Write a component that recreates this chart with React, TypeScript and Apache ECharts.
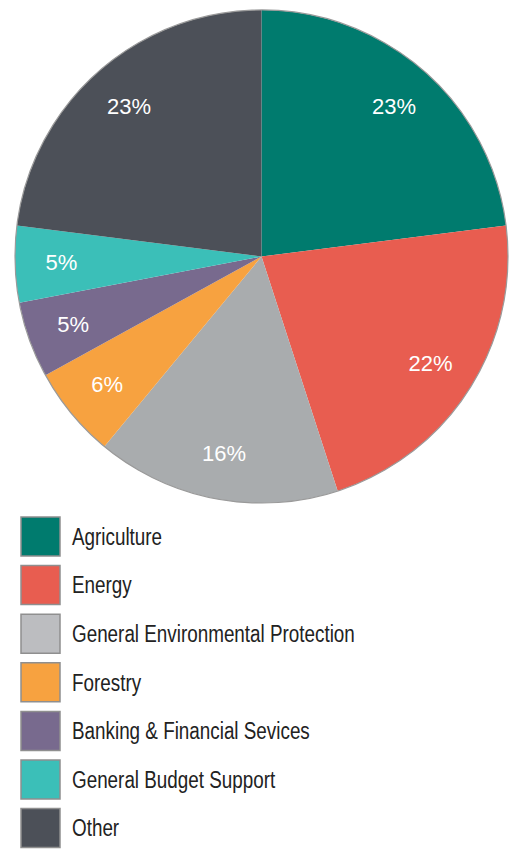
import React, { useEffect, useRef } from "react";
import * as echarts from "echarts";

const categories = [
  "Agriculture",
  "Energy",
  "General Environmental Protection",
  "Forestry",
  "Banking & Financial Sevices",
  "General Budget Support",
  "Other",
];
const shares = [23, 22, 16, 6, 5, 5, 23];
const colors = ["#007B6E", "#E85D50", "#A9ACAE", "#F7A240", "#786A8E", "#3BBFB8", "#4C5058"];
const legendColors = ["#007B6E", "#E85D50", "#BCBDC0", "#F7A240", "#786A8E", "#3BBFB8", "#4C5058"];

const FONT = "'Liberation Sans', Arial, sans-serif";

export default function App() {
  const ref = useRef<HTMLDivElement>(null);
  useEffect(() => {
    if (!ref.current) return;
    const chart = echarts.init(ref.current, null, { renderer: "svg" });
    const data = categories.map((name, i) => ({
      name,
      value: shares[i],
      itemStyle: { color: colors[i] },
    }));
    const cx = 261.5;
    const cy = 256.5;
    const R = 246.5;
    const legendTop = 517;
    const legendStep = 48.6;
    const legendGraphics: any[] = [];
    categories.forEach((name, i) => {
      const y = legendTop + i * legendStep;
      legendGraphics.push({
        type: "rect",
        shape: { x: 21, y, width: 39, height: 39 },
        style: { fill: legendColors[i], stroke: "#8f8f8f", lineWidth: 1.5 },
        silent: true,
      });
      legendGraphics.push({
        type: "text",
        x: 72,
        y: y + 19.5,
        scaleX: 0.82,
        style: {
          text: name,
          fontFamily: FONT,
          fontSize: 23,
          fill: "#222222",
          align: "left",
          verticalAlign: "middle",
        },
        silent: true,
      });
    });
    chart.setOption({
      animation: false,
      graphic: [
        {
          type: "circle",
          shape: { cx, cy, r: R },
          style: { fill: "none", stroke: "#9a9a9a", lineWidth: 1.2 },
          z: 10,
          silent: true,
        },
        ...legendGraphics,
      ],
      series: [
        {
          type: "pie",
          center: [cx, cy],
          radius: [0, R],
          startAngle: 90,
          clockwise: true,
          label: { show: false },
          labelLine: { show: false },
          data,
          silent: true,
        },
        {
          type: "pie",
          center: [cx, cy],
          radius: [148, R],
          startAngle: 90,
          clockwise: true,
          itemStyle: { color: "transparent", borderWidth: 0 },
          label: {
            show: true,
            position: "inside",
            formatter: "{c}%",
            color: "#ffffff",
            fontFamily: FONT,
            fontSize: 22,
          },
          labelLine: { show: false },
          data: categories.map((name, i) => ({
            name,
            value: shares[i],
            itemStyle: { color: "transparent" },
          })),
          silent: true,
          z: 5,
        },
      ],
    });
    return () => chart.dispose();
  }, []);
  return (
    <div
      ref={ref}
      style={{ position: "absolute", left: 0, top: 0, width: 512, height: 850, background: "#fff" }}
    />
  );
}
